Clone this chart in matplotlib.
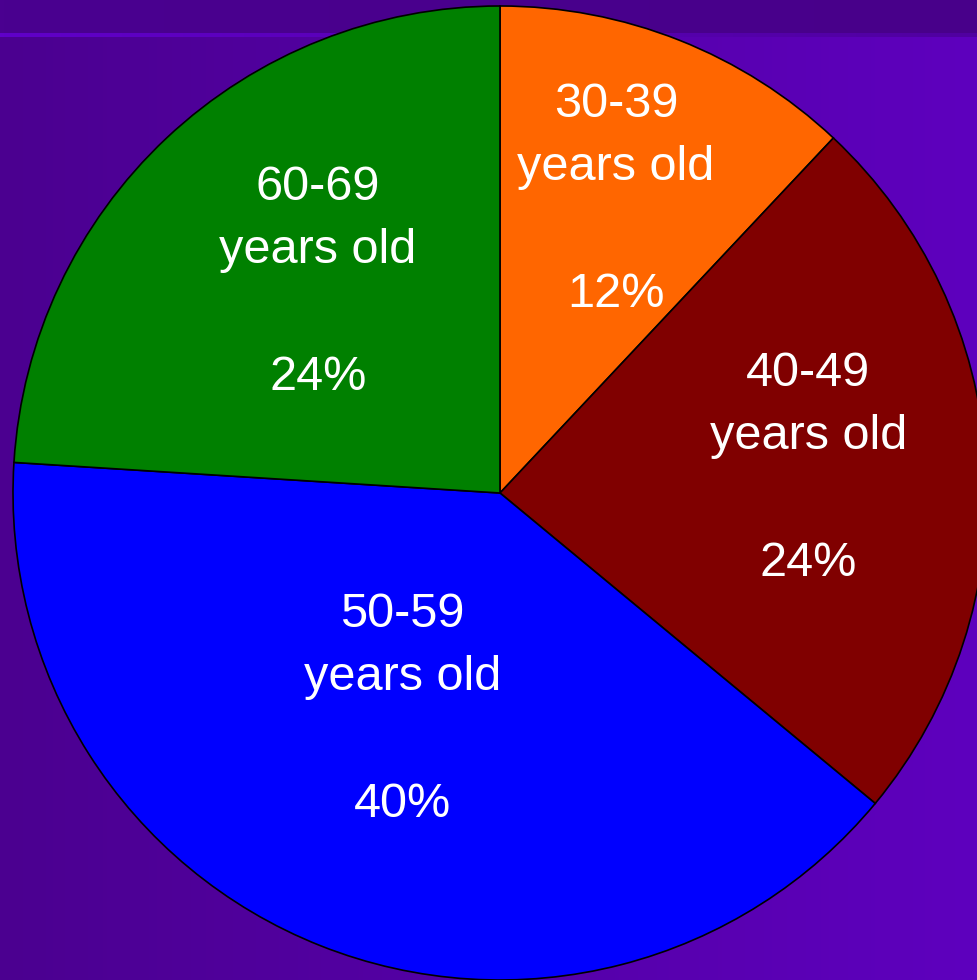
import numpy as np
import matplotlib.pyplot as plt
from matplotlib.colors import LinearSegmentedColormap

# age groups of respondents, clockwise from the top
age_groups = ['30-39', '40-49', '50-59', '60-69']
shares = [12, 24, 40, 24]
colors = ['#FF6600', '#800000', '#0000FF', '#008000']

W, H = 978, 980
fig = plt.figure(figsize=(W / 100, H / 100), dpi=100)

# background: purple gradient with a darker band on top
bg = fig.add_axes([0, 0, 1, 1])
bg.set_xlim(0, W)
bg.set_ylim(0, H)
bg.axis('off')
grad = LinearSegmentedColormap.from_list('bg', ['#4B0090', '#5E00BE'])
bg.imshow(np.linspace(0, 1, 256)[None, :], cmap=grad, aspect='auto',
          extent=[0, W, 0, H - 37], zorder=0)
band = LinearSegmentedColormap.from_list('band', ['#4A0090', '#48008A'])
bg.imshow(np.linspace(0, 1, 256)[None, :], cmap=band, aspect='auto',
          extent=[0, W, H - 33, H], zorder=0)
stripe = LinearSegmentedColormap.from_list('stripe', ['#6000C8', '#5000A0'])
bg.imshow(np.linspace(0, 1, 256)[None, :], cmap=stripe, aspect='auto',
          extent=[0, W, H - 37, H - 33], zorder=0)

# pie in pixel coordinates
ax = fig.add_axes([0, 0, 1, 1])
cx, cy, r = 500, H - 493, 487
wedges, _ = ax.pie(shares, colors=colors, startangle=90, counterclock=False,
                   center=(cx, cy), radius=r, frame=True,
                   wedgeprops=dict(edgecolor='black', linewidth=1.2))
ax.set_xlim(0, W)
ax.set_ylim(0, H)
ax.set_aspect('equal')
ax.axis('off')

# label distance (fraction of radius) and angle shift (deg) per wedge
label_r = [0.647, 0.635, 0.49, 0.57]
label_shift = [0, 0.8, -2.6, -2.2]
font = dict(family=['Liberation Sans', 'DejaVu Sans'], size=35, color='white',
            ha='center', va='center')
for w, grp, pct, lr, sh in zip(wedges, age_groups, shares, label_r, label_shift):
    mid = np.deg2rad((w.theta1 + w.theta2) / 2 + sh)
    x = cx + lr * r * np.cos(mid)
    y = cy + lr * r * np.sin(mid)
    ax.text(x, y + 96, grp, **font)
    ax.text(x, y + 33, 'years old', **font)
    ax.text(x, y - 94, f'{pct}%', **font)

fig.savefig('out.png', dpi=100)
